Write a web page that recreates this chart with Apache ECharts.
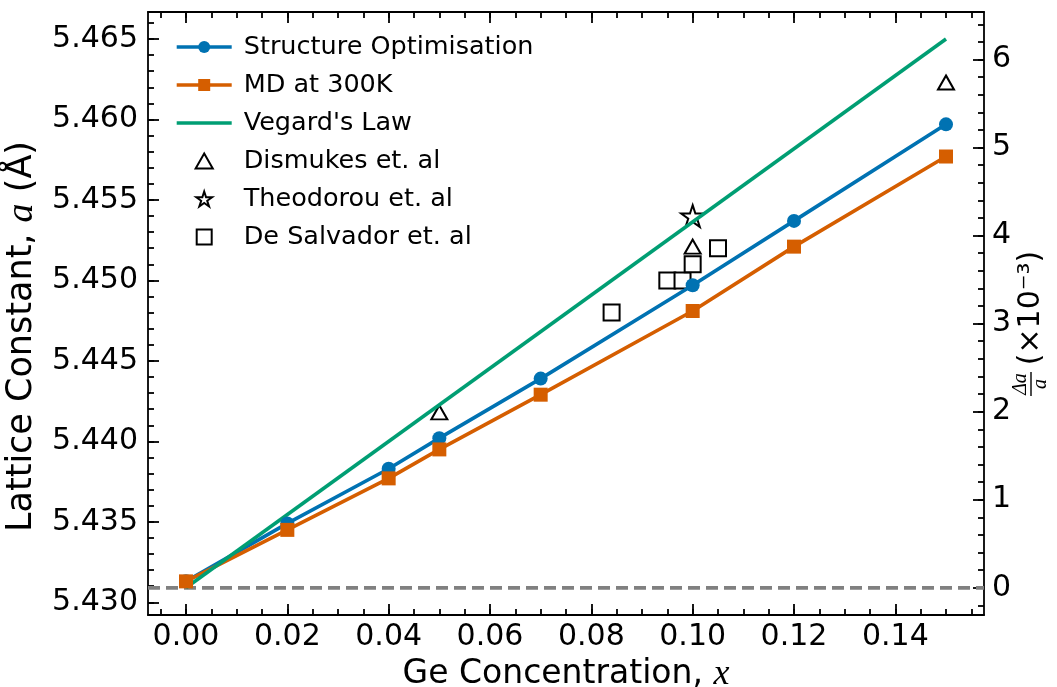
<!DOCTYPE html>
<html>
<head>
<meta charset="utf-8">
<title>Lattice constant vs Ge concentration</title>
<script src="https://cdn.jsdelivr.net/npm/echarts@6/dist/echarts.min.js"></script>
<style>
html, body { margin: 0; padding: 0; background: #fff; }
#chart { width: 1057px; height: 687px; }
</style>
</head>
<body>
<div id="chart"></div>
<script>
// values
const geX = [0, 0.02, 0.04, 0.05, 0.07, 0.10, 0.12, 0.15];
const structOpt = [5.4313, 5.4349, 5.4383, 5.4402, 5.4439, 5.4497, 5.4537, 5.4597];
const md300 = [5.4313, 5.4345, 5.4377, 5.4395, 5.4429, 5.4481, 5.4521, 5.4577];
const vegardX = [0, 0.15];
const vegardA = [5.4309, 5.4650];
const dismukesX = [0.05, 0.10, 0.15];
const dismukesA = [5.4418, 5.4521, 5.4623];
const theodorouX = [0.10];
const theodorouA = [5.4540];
const salvadorX = [0.084, 0.095, 0.098, 0.100, 0.105];
const salvadorA = [5.4480, 5.4500, 5.4500, 5.4510, 5.4520];
const siA0 = 5.4309; // dashed line, pure Si

// tick labels
const xTicks = [0, 0.02, 0.04, 0.06, 0.08, 0.10, 0.12, 0.14];
const yTicks = [5.430, 5.435, 5.440, 5.445, 5.450, 5.455, 5.460, 5.465];
const rTicks = [0, 1, 2, 3, 4, 5, 6];

// axis limits (matplotlib style margins)
const xMin = -0.0075, xMax = 0.1575;
const yMin = 5.42921, yMax = 5.46668;
const rMin = -0.31, rMax = 6.54;

const FONT = 'DejaVu Sans';
const MATH = 'Liberation Serif';

function pairs(xs, ys) {
  return xs.map((x, i) => [x, ys[i]]);
}

// minor tick positions between lo and hi
function minorTicks(lo, hi, step, digits) {
  const out = [];
  const start = Math.ceil(lo / step);
  const end = Math.floor(hi / step);
  for (let k = start; k <= end; k++) out.push(+(k * step).toFixed(digits));
  return out;
}

const tickLine = { color: '#000', width: 1.8 };
const noLine = { show: false, onZero: false };

function majorAxis(extra) {
  return Object.assign({
    type: 'value',
    splitLine: { show: false },
    axisLine: { show: true, onZero: false, lineStyle: tickLine },
  }, extra);
}

function minorAxis(extra, values) {
  return Object.assign({
    type: 'value',
    splitLine: { show: false },
    axisLine: noLine,
    axisLabel: { show: false },
    axisTick: { inside: true, length: 6, lineStyle: tickLine, customValues: values },
  }, extra);
}

const xMinor = minorTicks(xMin, xMax, 0.005, 3);
const yMinor = minorTicks(yMin, yMax, 0.001, 3);
const rMinor = minorTicks(rMin, rMax, 0.2, 1);

// marker shapes as paths so the legend keeps their aspect
const starPath = 'path://M12,0 L14.69,8.29 L23.41,8.29 L16.36,13.42 L19.05,21.71 L12,16.58 L4.95,21.71 L7.64,13.42 L0.59,8.29 L9.31,8.29 Z';
const triPath = 'path://M8,0 L16,14 L0,14 Z';
const squarePath = 'path://M0,0 L14,0 L14,14 L0,14 Z';
const linePath = 'path://M0,0 L55,0 L55,3.4 L0,3.4 Z';
const emptyMarker = { color: '#fff', borderColor: '#000', borderWidth: 2, opacity: 1 };

const chart = echarts.init(document.getElementById('chart'));

const option = {
  animation: false,
  backgroundColor: '#fff',
  textStyle: { fontFamily: FONT, color: '#000' },
  grid: { left: 148, right: 73, top: 12, bottom: 72, outerBoundsMode: 'none' },
  legend: {
    orient: 'vertical',
    left: 170,
    top: 29,
    itemWidth: 55,
    itemHeight: 15,
    itemGap: 12,
    lineStyle: { width: 3.4 },
    textStyle: { fontFamily: FONT, fontSize: 25.5, color: '#000', padding: [0, 0, 0, 7] },
    data: [
      'Structure Optimisation',
      'MD at 300K',
      { name: "Vegard's Law", icon: linePath },
      { name: 'Dismukes et. al', icon: triPath },
      { name: 'Theodorou et. al', icon: starPath },
      { name: 'De Salvador et. al', icon: squarePath }
    ]
  },
  xAxis: [
    majorAxis({
      min: xMin, max: xMax, position: 'bottom',
      axisTick: { inside: true, length: 11, lineStyle: tickLine, customValues: xTicks },
      axisLabel: {
        customValues: xTicks, margin: 7, fontSize: 30, color: '#000', fontFamily: FONT,
        formatter: v => v.toFixed(2)
      },
      name: '{t|Ge Concentration, }{i|x}',
      nameLocation: 'middle',
      nameGap: 34,
      nameTextStyle: {
        rich: {
          t: { fontSize: 33, fontFamily: FONT, color: '#000' },
          i: { fontSize: 36, fontFamily: MATH, fontStyle: 'italic', color: '#000' }
        }
      }
    }),
    minorAxis({ min: xMin, max: xMax, position: 'bottom' }, xMinor),
    majorAxis({
      min: xMin, max: xMax, position: 'top',
      axisTick: { inside: true, length: 11, lineStyle: tickLine, customValues: xTicks },
      axisLabel: { show: false }
    }),
    minorAxis({ min: xMin, max: xMax, position: 'top' }, xMinor)
  ],
  yAxis: [
    majorAxis({
      min: yMin, max: yMax, position: 'left',
      axisTick: { inside: true, length: 11, lineStyle: tickLine, customValues: yTicks },
      axisLabel: {
        customValues: yTicks, margin: 10, fontSize: 30, color: '#000', fontFamily: FONT,
        formatter: v => v.toFixed(3)
      },
      name: '{t|Lattice Constant, }{i|a}{t| (Å)}',
      nameLocation: 'middle',
      nameGap: 99,
      nameTextStyle: {
        padding: [0, 46, 0, 0],
        rich: {
          t: { fontSize: 35, fontFamily: FONT, color: '#000' },
          i: { fontSize: 38, fontFamily: MATH, fontStyle: 'italic', color: '#000' }
        }
      }
    }),
    minorAxis({ min: yMin, max: yMax, position: 'left' }, yMinor),
    majorAxis({
      min: rMin, max: rMax, position: 'right',
      axisTick: { inside: true, length: 11, lineStyle: tickLine, customValues: rTicks },
      axisLabel: {
        customValues: rTicks, margin: 8, fontSize: 30, color: '#000', fontFamily: FONT,
        formatter: v => String(Math.round(v))
      }
    }),
    minorAxis({ min: rMin, max: rMax, position: 'right' }, rMinor)
  ],
  graphic: [{
    // right axis title: Δa/a (×10⁻³), drawn rotated
    type: 'group',
    x: 1031,
    y: 330,
    rotation: Math.PI / 2,
    children: [
      {
        type: 'text', x: -54, y: -10,
        style: { text: 'Δa', fontSize: 20, fontFamily: MATH, fontStyle: 'italic', fill: '#000',
                 align: 'center', verticalAlign: 'middle' }
      },
      { type: 'line', shape: { x1: -66, y1: 0, x2: -42, y2: 0 }, style: { stroke: '#000', lineWidth: 1.4 } },
      {
        type: 'text', x: -54, y: 10,
        style: { text: 'a', fontSize: 20, fontFamily: MATH, fontStyle: 'italic', fill: '#000',
                 align: 'center', verticalAlign: 'middle' }
      },
      {
        type: 'text', x: 22, y: 0,
        style: { text: '(×10⁻³)', fontSize: 30, fontFamily: FONT, fill: '#000',
                 align: 'center', verticalAlign: 'middle' }
      }
    ]
  }],
  series: [
    {
      name: 'Si reference',
      type: 'line',
      data: pairs([xMin, xMax], [siA0, siA0]),
      symbol: 'none',
      silent: true,
      color: '#808080',
      lineStyle: { width: 3.8, type: [12, 6] }
    },
    {
      name: 'Structure Optimisation',
      type: 'line',
      data: pairs(geX, structOpt),
      symbol: 'circle',
      symbolSize: 14,
      color: '#0072b2',
      lineStyle: { width: 3.6 }
    },
    {
      name: 'MD at 300K',
      type: 'line',
      data: pairs(geX, md300),
      symbol: 'rect',
      symbolSize: 14,
      color: '#d55e00',
      lineStyle: { width: 3.6 }
    },
    {
      name: "Vegard's Law",
      type: 'line',
      data: pairs(vegardX, vegardA),
      symbol: 'none',
      color: '#009e73',
      lineStyle: { width: 3.6 }
    },
    {
      name: 'Dismukes et. al',
      type: 'scatter',
      data: pairs(dismukesX, dismukesA),
      symbol: triPath,
      symbolSize: [16, 14],
      itemStyle: emptyMarker
    },
    {
      name: 'Theodorou et. al',
      type: 'scatter',
      data: pairs(theodorouX, theodorouA),
      symbol: starPath,
      symbolKeepAspect: true,
      symbolSize: 23,
      itemStyle: emptyMarker
    },
    {
      name: 'De Salvador et. al',
      type: 'scatter',
      data: pairs(salvadorX, salvadorA),
      symbol: 'rect',
      symbolSize: 16,
      itemStyle: emptyMarker
    }
  ]
};

chart.setOption(option);
</script>
</body>
</html>
